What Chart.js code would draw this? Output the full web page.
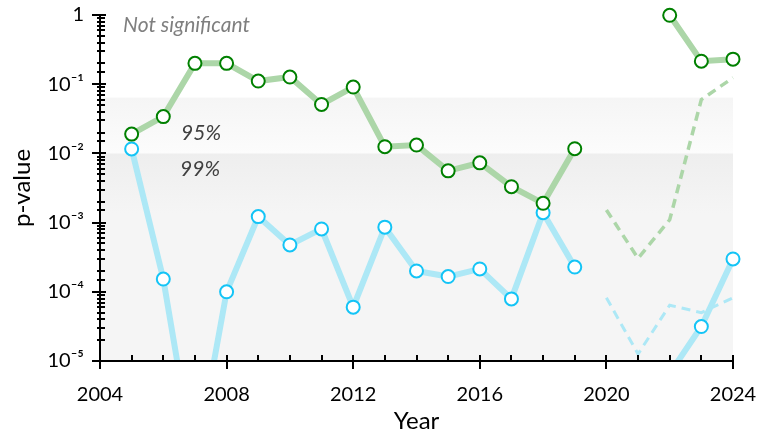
<!DOCTYPE html>
<html>
<head>
<meta charset="utf-8">
<script src="https://cdn.jsdelivr.net/npm/chart.js@4"></script>
<style>
  body { margin: 0; background: #fff; }
  #wrap { width: 760px; height: 437px; }
</style>
</head>
<body>
<div id="wrap"><canvas id="chart"></canvas></div>
<script>
// valeurs
const years = [2005, 2006, 2007, 2008, 2009, 2010, 2011, 2012, 2013, 2014, 2015, 2016, 2017, 2018, 2019, 2020, 2021, 2022, 2023, 2024];
const greenP = [0.019, 0.034, 0.20, 0.20, 0.111, 0.127, 0.051, 0.091, 0.0125, 0.0132, 0.0056, 0.0073, 0.0033, 0.0019, 0.0117, null, null, 0.99, 0.215, 0.23];
const blueP = [0.0116, 0.000153, 3e-7, 0.0001, 0.00122, 0.000475, 0.00081, 0.00006, 0.00086, 0.0002, 0.000166, 0.000214, 0.000079, 0.00139, 0.000228, null, null, 6.6e-6, 0.0000315, 0.000298];
const greenDashYears = [2020, 2021, 2022, 2023, 2024];
const greenDash = [0.00152, 0.000305, 0.0011, 0.06, 0.124];
const blueDashYears = [2020, 2021, 2022, 2023, 2024];
const blueDash = [0.000082, 0.0000126, 0.000064, 0.00005, 0.000082];
const bandLimits = [0.064, 0.01, 0.00001];
const bandLabels = ['95%', '99%'];

const pts = (xs, ys) => xs.map((x, i) => ({ x: x, y: ys[i] }));

const green = '#008000';
const greenLine = '#acd6a8';
const blue = '#14c4f6';
const blueLine = '#ade8f6';
const fontFam = "Lato, 'DejaVu Sans', sans-serif";

const isDecade = v => Math.abs(Math.log10(v) - Math.round(Math.log10(v))) < 1e-6;
const sup = { '-': '⁻', '0': '⁰', '1': '¹', '2': '²', '3': '³', '4': '⁴', '5': '⁵' };

const decor = {
  id: 'decor',
  beforeDatasetsDraw(chart) {
    const { ctx, chartArea: a, scales: { x, y } } = chart;
    const y0 = y.getPixelForValue(bandLimits[0]);
    const y1 = y.getPixelForValue(bandLimits[1]);
    const y2 = a.bottom;
    let g = ctx.createLinearGradient(0, y0, 0, y1);
    g.addColorStop(0, '#f5f5f5');
    g.addColorStop(1, '#fcfcfc');
    ctx.save();
    ctx.fillStyle = g;
    ctx.fillRect(a.left, y0, a.right - a.left, y1 - y0);
    g = ctx.createLinearGradient(0, y1, 0, y1 + 60);
    g.addColorStop(0, '#eeeeee');
    g.addColorStop(1, '#f5f5f5');
    ctx.fillStyle = g;
    ctx.fillRect(a.left, y1, a.right - a.left, y2 - y1);

    ctx.font = 'italic 21px ' + fontFam;
    ctx.textBaseline = 'middle';
    ctx.fillStyle = '#7f7f7f';
    ctx.fillText('Not significant', x.getPixelForValue(2004.73), y.getPixelForValue(0.72));
    ctx.fillStyle = '#404040';
    ctx.fillText(bandLabels[0], x.getPixelForValue(2006.56), y.getPixelForValue(0.0197));
    ctx.fillText(bandLabels[1], x.getPixelForValue(2006.53), y.getPixelForValue(0.006));
    ctx.restore();
  },
  afterDraw(chart) {
    const { ctx, chartArea: a, scales: { x, y } } = chart;
    ctx.save();
    ctx.strokeStyle = '#000';
    ctx.lineWidth = 2;
    ctx.beginPath();
    ctx.moveTo(a.left, a.top);
    ctx.lineTo(a.left, a.bottom);
    ctx.lineTo(a.right + 1, a.bottom);
    y.ticks.forEach(t => {
      const py = Math.round(y.getPixelForValue(t.value));
      if (isDecade(t.value)) {
        ctx.moveTo(a.left - 8, py); ctx.lineTo(a.left + 6, py);
      } else {
        ctx.moveTo(a.left - 3, py); ctx.lineTo(a.left + 5, py);
      }
    });
    x.ticks.forEach(t => {
      const px = Math.round(x.getPixelForValue(t.value));
      if (t.value % 4 === 0) {
        ctx.moveTo(px, a.bottom - 6); ctx.lineTo(px, a.bottom + 8);
      } else {
        ctx.moveTo(px, a.bottom - 6); ctx.lineTo(px, a.bottom);
      }
    });
    ctx.stroke();
    ctx.restore();
  }
};

const clipBox = { left: 12, top: 12, right: 12, bottom: 0 };

const ctx = document.getElementById('chart');
const chart = new Chart(ctx, {
  type: 'line',
  data: {
    datasets: [
      {
        data: pts(years, greenP),
        borderColor: greenLine,
        borderWidth: 6,
        pointRadius: 6.5,
        pointBorderWidth: 2,
        pointBorderColor: green,
        pointBackgroundColor: '#fff',
        spanGaps: false,
        clip: clipBox,
        order: 0
      },
      {
        data: pts(years, blueP),
        borderColor: blueLine,
        borderWidth: 6,
        pointRadius: 6.5,
        pointBorderWidth: 2,
        pointBorderColor: blue,
        pointBackgroundColor: '#fff',
        spanGaps: false,
        clip: clipBox,
        order: 1
      },
      {
        data: pts(greenDashYears, greenDash),
        borderColor: greenLine,
        borderWidth: 3.5,
        borderDash: [9, 6],
        pointRadius: 0,
        clip: clipBox,
        order: 2
      },
      {
        data: pts(blueDashYears, blueDash),
        borderColor: blueLine,
        borderWidth: 3,
        borderDash: [9, 6],
        pointRadius: 0,
        clip: clipBox,
        order: 3
      }
    ]
  },
  options: {
    responsive: true,
    maintainAspectRatio: false,
    animation: false,
    layout: { padding: { top: 15, right: 27, bottom: 0, left: 0 } },
    plugins: { legend: { display: false }, tooltip: { enabled: false } },
    elements: { line: { tension: 0 } },
    scales: {
      x: {
        type: 'linear',
        min: 2004,
        max: 2024,
        afterFit: s => { s.height = 76; s.paddingLeft = 0; s.paddingRight = 0; },
        grid: { display: false, drawTicks: false },
        border: { display: false },
        ticks: {
          stepSize: 1,
          autoSkip: false,
          maxRotation: 0,
          padding: 22,
          color: '#000',
          font: { family: fontFam, size: 20 },
          callback: v => (v % 4 === 0 ? String(v) : '')
        },
        title: {
          display: true,
          text: 'Year',
          color: '#000',
          font: { family: fontFam, size: 24 },
          padding: { top: 0, bottom: 1 }
        }
      },
      y: {
        type: 'logarithmic',
        min: 0.00001,
        max: 1,
        afterFit: s => { s.width = 100; s.paddingTop = 0; s.paddingBottom = 0; },
        grid: { display: false, drawTicks: false },
        border: { display: false },
        ticks: {
          autoSkip: false,
          padding: 16,
          color: '#000',
          font: { family: fontFam, size: 20 },
          callback: v => {
            if (!isDecade(v)) return '';
            const e = Math.round(Math.log10(v));
            if (e === 0) return '1';
            return '10' + String(e).split('').map(c => sup[c]).join('');
          }
        },
        title: {
          display: true,
          text: 'p-value',
          color: '#000',
          font: { family: fontFam, size: 24 },
          padding: { top: 8, bottom: 0 }
        }
      }
    }
  },
  plugins: [decor]
});
</script>
</body>
</html>
